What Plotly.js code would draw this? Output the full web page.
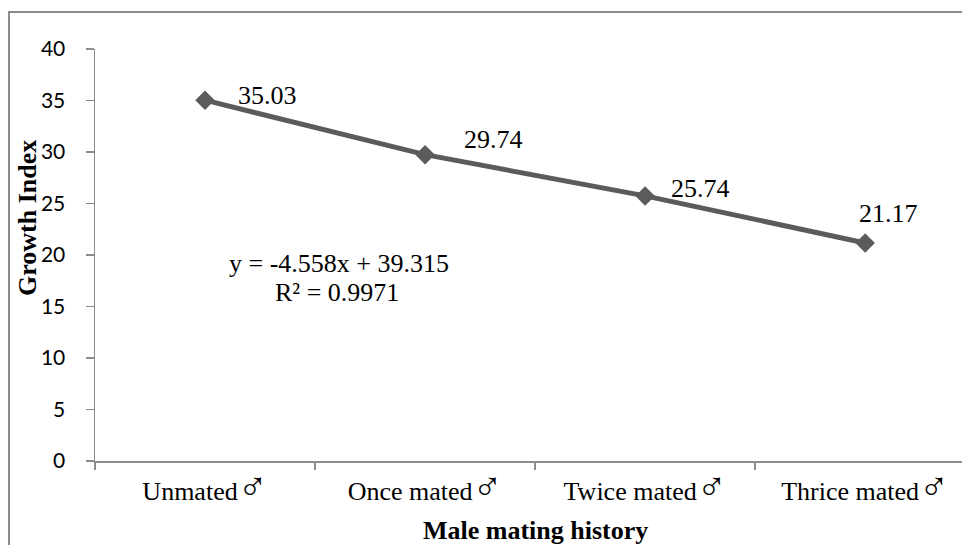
<!DOCTYPE html>
<html><head><meta charset="utf-8">
<script src="https://cdn.plot.ly/plotly-3.0.1.min.js"></script>
<style>
html,body{margin:0;padding:0;background:#fff;}
#wrap{position:relative;width:962px;height:545px;overflow:hidden;}
#frame{position:absolute;left:8px;top:11px;width:960px;height:540px;border-left:2px solid #8c8c8c;border-top:2px solid #8c8c8c;}
#chart{position:absolute;left:0;top:0;width:962px;height:545px;}
</style></head>
<body><div id="wrap"><div id="frame"></div><div id="chart"></div></div>
<script>
const categories = ["Unmated\u2642", "Once mated\u2642", "Twice mated\u2642", "Thrice mated\u2642"];
const growthIndex = [35.03, 29.74, 25.74, 21.17];
const labelText = ["35.03", "29.74", "25.74", "21.17"];
const yTicks = [0, 5, 10, 15, 20, 25, 30, 35, 40];
const equationText = "y = -4.558x + 39.315";
const r2Text = "R\u00b2 = 0.9971";

const serif = "Liberation Serif, Times New Roman, serif";
const lineColor = "#5b5b5b";
const tickText = categories.map(c => c.replace("\u2642",
  '<span style="font-family:DejaVu Sans ExtraLight, DejaVu Sans;font-weight:200;font-size:40px">\u2642</span>'));

const trace = {
  x: categories, y: growthIndex, type: "scatter", mode: "lines+markers",
  line: {color: lineColor, width: 5},
  marker: {symbol: "diamond", size: 15, color: lineColor},
  hoverinfo: "skip", cliponaxis: false
};

const plotTop = 49, plotBottom = 461, plotLeft = 95, plotW = 962 - 95;
// data label offsets (pixels: right, up)
const offs = [[62, 5], [68, 15], [55, 7], [23, 29]];
const annotations = growthIndex.map((v, i) => ({
  x: categories[i], y: v, xref: "x", yref: "y", text: labelText[i],
  xanchor: "center", yanchor: "middle",
  showarrow: false, xshift: offs[i][0], yshift: offs[i][1],
  font: {family: serif, size: 26, color: "#000"}
}));
annotations.push(
  {x: 0.61, y: 19.2, xref: "x", yref: "y", text: equationText, showarrow: false,
   xanchor: "center", yanchor: "middle",
   font: {family: serif, size: 26, color: "#000"}},
  {x: 0.6, y: 16.4, xref: "x", yref: "y", text: r2Text, showarrow: false,
   xanchor: "center", yanchor: "middle",
   font: {family: serif, size: 26, color: "#000"}},
  {x: (27 - plotLeft) / plotW, y: (plotBottom - 218) / (plotBottom - plotTop),
   xref: "paper", yref: "paper", text: "<b>Growth Index</b>", showarrow: false,
   xanchor: "center", yanchor: "middle",
   textangle: -90, font: {family: serif, size: 26, color: "#000"}},
  {x: 1.5, y: 0, xref: "x", yref: "paper", yshift: -69, text: "<b>Male mating history</b>", showarrow: false,
   xanchor: "center", yanchor: "middle",
   font: {family: serif, size: 26, color: "#000"}}
);

const layout = {
  width: 962, height: 545,
  margin: {l: 95, r: 0, t: 49, b: 84, pad: 0},
  paper_bgcolor: "rgba(0,0,0,0)", plot_bgcolor: "rgba(0,0,0,0)",
  showlegend: false,
  xaxis: {
    type: "category", range: [-0.5, 3.44], tickson: "boundaries",
    tickvals: categories, ticktext: tickText,
    showline: true, linecolor: "#8c8c8c", linewidth: 1.5,
    ticks: "outside", ticklen: 7, tickcolor: "#8c8c8c", tickwidth: 1.5,
    showgrid: false, zeroline: false, ticklabelstandoff: 6,
    tickfont: {family: serif, size: 26, color: "#000"}
  },
  yaxis: {
    range: [0, 40], tickvals: yTicks, ticktext: yTicks.map(String),
    showline: true, linecolor: "#8c8c8c", linewidth: 1.5,
    ticks: "outside", ticklen: 8, tickcolor: "#8c8c8c", tickwidth: 1.5,
    showgrid: false, zeroline: false, ticklabelstandoff: 16,
    tickfont: {family: "Lato, Carlito, sans-serif", size: 21, color: "#000"}
  },
  annotations: annotations
};
Plotly.newPlot("chart", [trace], layout, {displayModeBar: false, staticPlot: true});
</script></body></html>
